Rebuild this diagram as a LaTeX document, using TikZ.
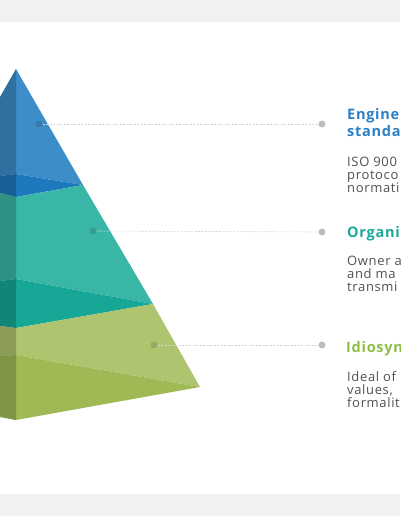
\documentclass[tikz,border=0pt]{standalone}
\usepackage{fontspec}
\setmainfont{Open Sans}
\usepackage{tikz}

\definecolor{bandgray}{HTML}{F1F1F1}
\definecolor{blueLight}{HTML}{3D8DC9}
\definecolor{blueDark}{HTML}{1E78BE}
\definecolor{tealLight}{HTML}{3AB6A6}
\definecolor{tealDark}{HTML}{16A797}
\definecolor{greenLight}{HTML}{AEC46F}
\definecolor{greenDark}{HTML}{9FBA55}
\definecolor{headBlue}{HTML}{2A7FC5}
\definecolor{headTeal}{HTML}{1BA997}
\definecolor{headGreen}{HTML}{8DBF45}
\definecolor{bodygray}{HTML}{505050}
\definecolor{dotgray}{HTML}{BDBDBD}
\definecolor{linegray}{HTML}{D3D3D3}

\tikzset{
  innerdot/.style={circle, fill=black, fill opacity=0.13, inner sep=0pt, minimum size=7pt},
  outerdot/.style={circle, fill=dotgray, inner sep=0pt, minimum size=7pt},
  leader/.style={draw=linegray, dash pattern=on 2pt off 1.5pt, line width=0.6pt},
  heading/.style={anchor=base west, inner sep=0pt, font=\bfseries\fontsize{14.5}{17}\selectfont\addfontfeatures{LetterSpace=5}},
  bodytext/.style={anchor=base west, inner sep=0pt, text=bodygray, font=\fontsize{13}{14}\selectfont\addfontfeatures{LetterSpace=5}},
}

\begin{document}
\begin{tikzpicture}[x=1pt, y=-1pt]
    \useasboundingbox (0,0) rectangle (400,516);
    \clip (0,0) rectangle (400,516);

    % Bands
    \fill[bandgray] (0,0) rectangle (400,22);
    \fill[bandgray] (0,494) rectangle (400,516);

    % Pyramid layers
    \fill[blueLight] (0,97) -- (16,69) -- (83,185) -- (16,174) -- (0,176) -- cycle;
    \fill[blueDark] (0,176) -- (16,174) -- (83,185) -- (16,197) -- (0,193) -- cycle;
    \fill[tealLight] (0,193) -- (16,197) -- (83,185) -- (153,304) -- (16,279) -- (0,281) -- cycle;
    \fill[tealDark] (0,281) -- (16,279) -- (153,304) -- (16,328) -- (0,326) -- cycle;
    \fill[greenLight] (0,326) -- (16,328) -- (153,304) -- (200,387) -- (16,355) -- (0,356) -- cycle;
    \fill[greenDark] (0,356) -- (16,355) -- (200,387) -- (16,420) -- (0,417) -- cycle;

    % Left face shade
    \fill[black, opacity=0.2] (0,97) -- (16,69) -- (16,420) -- (0,417) -- cycle;

    % Leaders
    \node[innerdot] (in1) at (39,124) {};
    \node[innerdot] (in2) at (93,231) {};
    \node[innerdot] (in3) at (154,345) {};
    \node[outerdot] (out1) at (322,124) {};
    \node[outerdot] (out2) at (322,232) {};
    \node[outerdot] (out3) at (322,345) {};
    \draw[leader] (in1) -- (out1);
    \draw[leader] (in2) -- (out2);
    \draw[leader] (in3) -- (out3);

    % Labels
    \node[heading, text=headBlue] (eng1) at (347,119) {Engine};
    \node[heading, text=headBlue] (eng2) at (347,136) {standa};
    \node[bodytext] (iso1) at (347,166) {ISO 900};
    \node[bodytext] (iso2) at (347,179) {protoco};
    \node[bodytext] (iso3) at (347,192) {normati};

    \node[heading, text=headTeal] (org1) at (347,237) {Organi};
    \node[bodytext] (own1) at (347,265) {Owner a};
    \node[bodytext] (own2) at (347,278) {and ma};
    \node[bodytext] (own3) at (347,291) {transmi};

    \node[heading, text=headGreen] (idi1) at (346,352) {Idiosyn};
    \node[bodytext] (ide1) at (347,381) {Ideal of};
    \node[bodytext] (ide2) at (347,394) {values,};
    \node[bodytext] (ide3) at (347,407) {formalit};
\end{tikzpicture}
\end{document}
